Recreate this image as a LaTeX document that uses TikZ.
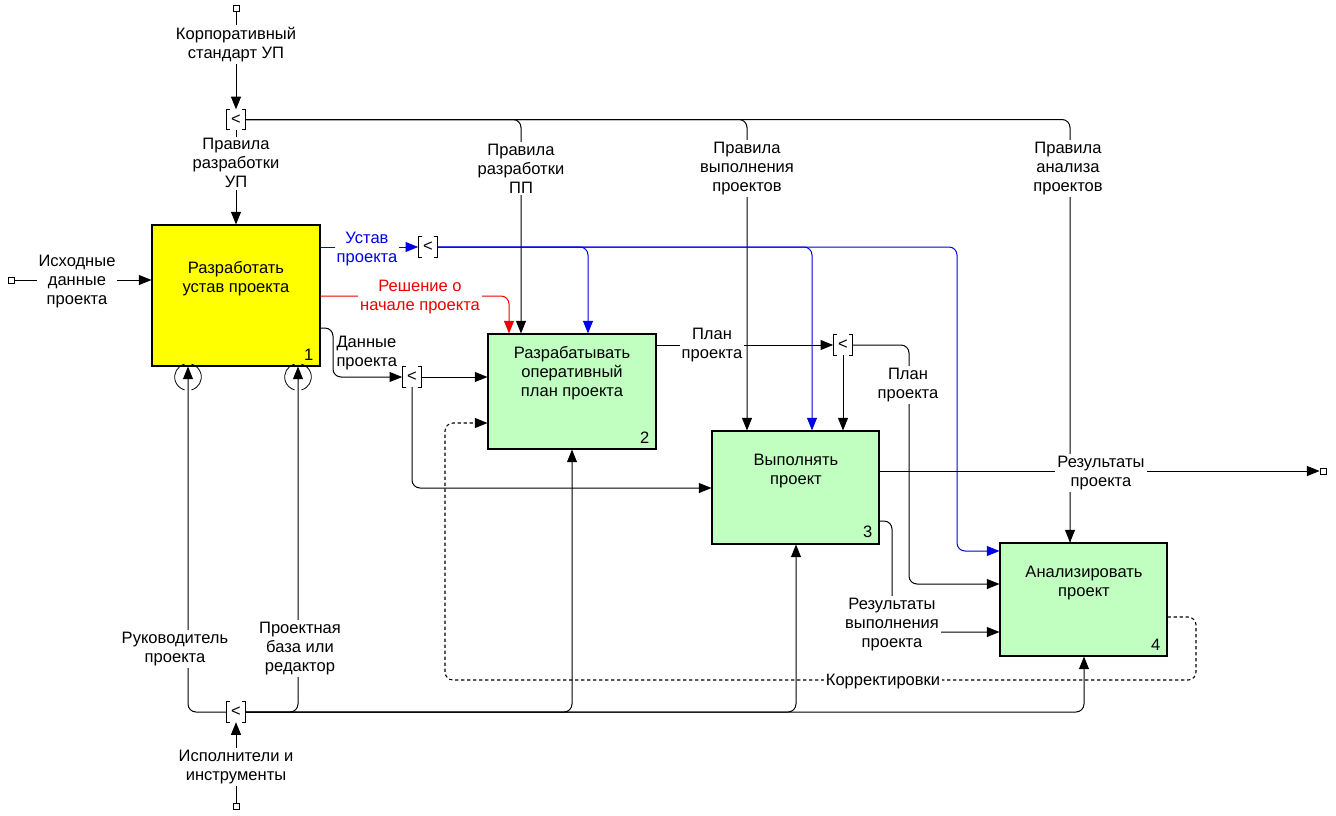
\documentclass[tikz,border=0pt]{standalone}
\usepackage{fontspec}
\setmainfont{Liberation Sans}
\usetikzlibrary{arrows.meta}
\definecolor{boxyellow}{RGB}{255,255,0}
\definecolor{boxgreen}{RGB}{192,255,192}
\definecolor{idblue}{RGB}{0,0,235}
\definecolor{idred}{RGB}{235,0,0}
\tikzset{
  arr/.style={-{Triangle[length=9.5pt,width=7.5pt]}},
  rc/.style={rounded corners=6pt},
  proc/.style={draw=black,line width=0.8pt,fill=boxgreen,inner sep=0pt},
  tun/.style={draw=black,fill=white,line width=0.6pt,minimum size=4.5pt,inner sep=0pt},
  jn/.style={minimum width=14pt,minimum height=14.5pt,inner sep=0pt},
  lbl/.style={fill=white,align=center,inner sep=1.5pt,yshift=-1pt},
  num/.style={anchor=south east,inner sep=0pt},
  btxt/.style={align=center,inner sep=0pt,yshift=-1pt},
}
\newcommand\junc[3]{%
  \node[jn] (#1) at (#2,#3) {<};
  \draw[line width=0.7pt] ([xshift=3pt]#1.north west) -- (#1.north west) -- (#1.south west) -- ([xshift=3pt]#1.south west);
  \draw[line width=0.7pt] ([xshift=-3pt]#1.north east) -- (#1.north east) -- (#1.south east) -- ([xshift=-3pt]#1.south east);
}
\begin{document}
\begin{tikzpicture}[x=0.75pt,y=-0.75pt,font=\fontsize{12.4}{14.25}\selectfont,line width=0.75pt]
\useasboundingbox[fill=white] (0,0) rectangle (1336,815);
% boxes
\node[proc,fill=boxyellow,minimum width=126pt,minimum height=105.75pt] (b1) at (236,295.5) {};
\node[proc,minimum width=126pt,minimum height=86.25pt] (b2) at (572,391.5) {};
\node[proc,minimum width=125.25pt,minimum height=84.75pt] (b3) at (795.5,487.5) {};
\node[proc,minimum width=125.25pt,minimum height=84.75pt] (b4) at (1083.5,599.5) {};
\node[btxt] (bt1) at (236,277.5) {Разработать\\устав проекта};
\node[btxt] (bt2) at (572,372) {Разрабатывать\\оперативный\\план проекта};
\node[btxt] (bt3) at (796,469.5) {Выполнять\\проект};
\node[btxt] (bt4) at (1084,581.5) {Анализировать\\проект};
\node[num] (n1) at ([xshift=-5pt,yshift=4.5pt]b1.south east) {1};
\node[num] (n2) at ([xshift=-5pt,yshift=4.5pt]b2.south east) {2};
\node[num] (n3) at ([xshift=-5pt,yshift=4.5pt]b3.south east) {3};
\node[num] (n4) at ([xshift=-5pt,yshift=4.5pt]b4.south east) {4};
% tunnels and junctions
\node[tun] (t1) at (236,8) {};
\node[tun] (t2) at (11,280) {};
\node[tun] (t3) at (1323,471) {};
\node[tun] (t4) at (236,806) {};
\junc{j1}{236}{119.5}
\junc{j2}{428}{247}
\junc{j3}{412}{377}
\junc{j4}{843}{345}
\junc{j5}{236}{712}
% controls
\draw[arr] (t1) -- (j1);
\draw[arr] (j1) -- (b1);
\draw[rc] (j1.east) -| (b4.north -| 1070,0);
\draw[arr] (1070,530) -- (b4.north -| 1070,0);
\draw[arr,rc] (j1.east) -| (b2.north -| 521,0);
\draw[arr,rc] (j1.east) -| (b3.north -| 747,0);
% input
\draw[arr] (t2) -- (b1.west |- t2);
% blue
\draw[arr,idblue] (b1.east |- 0,247) -- (j2.west);
\draw[arr,idblue,rc] (j2.east) -| (957,551) -- (b4.west |- 0,551);
\draw[arr,idblue,rc] (j2.east) -| (b2.north -| 588,0);
\draw[arr,idblue,rc] (j2.east) -| (b3.north -| 812,0);
% red
\draw[arr,idred,rc] (b1.east |- 0,296) -| (b2.north -| 509,0);
% data
\draw[arr,rc] (b1.east |- 0,328) -| (333,377) -- (j3.west);
\draw[arr] (j3.east) -- (b2.west |- j3);
\draw[arr,rc] (j3.south) |- (b3.west |- 0,488);
% plan
\draw[arr] (b2.east |- 0,345) -- (j4.west);
\draw[arr] (j4.south) -- (b3.north -| j4);
\draw[arr,rc] (j4.east) -| (909,584) -- (b4.west |- 0,584);
% outputs of 3
\draw[arr] (b3.east |- 0,471) -- (t3);
\draw[arr,rc] (b3.east |- 0,521) -| (892,632) -- (b4.west |- 0,632);
% feedback
\draw[arr,rc,dash pattern=on 2.5pt off 2pt,line width=0.8pt] (b4.east |- 0,617) -| (1196,680) -| (445,423) -- (b2.west |- 0,423);
% mechanisms
\draw[arr] (t4) -- (j5);
\draw[arr,rc] (j5.west) -| (b1.south -| 188,0);
\draw[arr,rc] (j5.east) -| (b1.south -| 298,0);
\draw[arr,rc] (j5.east) -| (b2.south -| 572,0);
\draw[arr,rc] (j5.east) -| (b3.south -| 796,0);
\draw[arr,rc] (j5.east) -| (b4.south -| 1084,0);
% circles
\draw[line width=0.6pt] (188,377) ++(105:10pt) arc (105:255:10pt);
\draw[line width=0.6pt] (188,377) ++(-75:10pt) arc (-75:75:10pt);
\draw[line width=0.6pt] (298,377) ++(105:10pt) arc (105:255:10pt);
\draw[line width=0.6pt] (298,377) ++(-75:10pt) arc (-75:75:10pt);
% labels
\node[lbl] (l1) at (236,43) {Корпоративный\\стандарт УП};
\node[lbl] (l2) at (236,162) {Правила\\разработки\\УП};
\node[lbl] (l3) at (77,280) {Исходные\\данные\\проекта};
\node[lbl,text=idblue] (l4) at (367,247.5) {Устав\\проекта};
\node[lbl,text=idred] (l5) at (420,295.5) {Решение о\\начале проекта};
\node[lbl,align=left,anchor=west] (l6) at (334,351.5) {Данные\\проекта};
\node[lbl] (l7) at (712,343.5) {План\\проекта};
\node[lbl] (l8) at (908,383.5) {План\\проекта};
\node[lbl] (l9) at (521,167) {Правила\\разработки\\ПП};
\node[lbl] (l10) at (747,167) {Правила\\выполнения\\проектов};
\node[lbl] (l11) at (1068,167) {Правила\\анализа\\проектов};
\node[lbl] (l12) at (1101,471.5) {Результаты\\проекта};
\node[lbl] (l13) at (892,623) {Результаты\\выполнения\\проекта};
\node[lbl] (l14) at (883,680) {Корректировки};
\node[lbl] (l15) at (175,647.5) {Руководитель\\проекта};
\node[lbl] (l16) at (300,647) {Проектная\\база или\\редактор};
\node[lbl] (l17) at (236,765.5) {Исполнители и\\инструменты};
\end{tikzpicture}
\end{document}
